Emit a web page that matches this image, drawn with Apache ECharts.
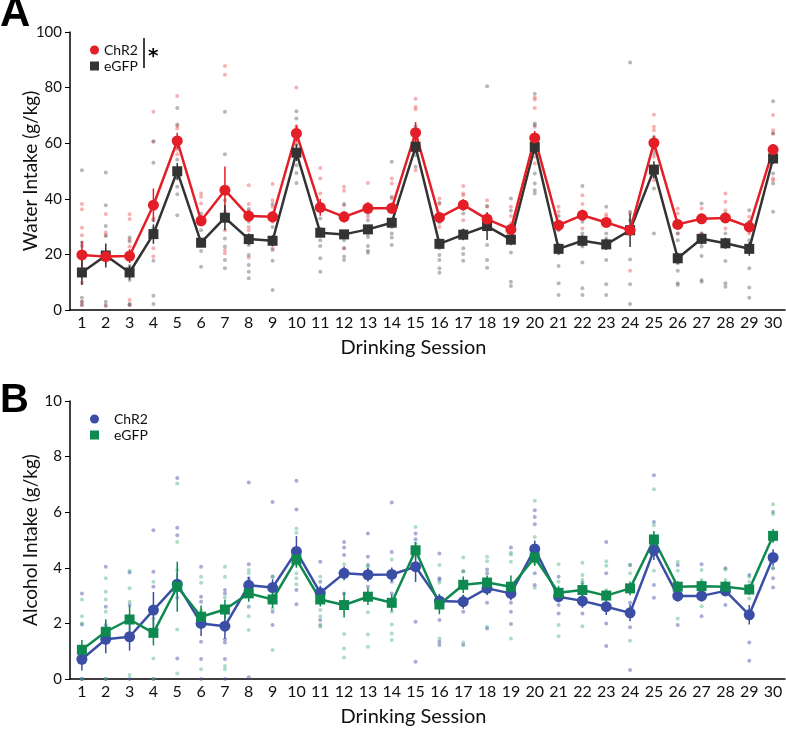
<!DOCTYPE html>
<html>
<head>
<meta charset="utf-8">
<script src="https://cdn.jsdelivr.net/npm/echarts@6/dist/echarts.min.js"></script>
<style>html,body{margin:0;padding:0;background:#fff}#c{width:786px;height:730px}</style>
</head>
<body>
<div id="c"></div>
<script>
const sessions = ['1','2','3','4','5','6','7','8','9','10','11','12','13','14','15','16','17','18','19','20','21','22','23','24','25','26','27','28','29','30'];
const waterTicks = [0, 20, 40, 60, 80, 100];
const alcoholTicks = [0, 2, 4, 6, 8, 10];

const waterChR2Mean = [19.8,19.2,19.4,37.7,60.8,32.1,43.1,33.8,33.5,63.5,36.9,33.5,36.6,36.6,63.8,33.3,37.8,32.7,29.0,61.9,30.5,34.1,31.5,28.7,60.1,30.8,32.8,33.1,29.9,57.7];
const waterChR2Err  = [5,2.5,2.5,6,3,2,8.5,2,2,3,3,2,2,2,3.8,2,2,2,2,2.5,2,2,1.5,1.5,2.5,1.5,1.5,1.5,2,2];
const waterEgfpMean = [13.5,19.6,13.5,27.3,49.9,24.2,33.2,25.5,24.9,56.6,27.8,27.2,29.0,31.4,58.7,23.8,27.1,30.2,25.3,58.7,22.0,24.9,23.6,28.7,50.5,18.6,25.6,24.0,22.0,54.5];
const waterEgfpErr  = [4.5,4.3,2.5,3.5,3,1.5,4.5,2,2,3,1.5,1.5,1.5,1.5,2,1.5,2,5,2,2.5,2,2,2,6,3,2,2,2,2.5,2];

const alcoholChR2Mean = [0.71,1.43,1.52,2.48,3.41,2.0,1.9,3.37,3.29,4.59,3.1,3.8,3.75,3.76,4.04,2.81,2.78,3.26,3.08,4.68,2.96,2.81,2.6,2.38,4.63,2.99,2.99,3.17,2.31,4.37];
const alcoholChR2Err  = [0.4,0.5,0.5,0.65,0.4,0.45,0.45,0.3,0.3,0.55,0.25,0.25,0.25,0.25,0.55,0.25,0.25,0.25,0.25,0.3,0.2,0.25,0.3,0.3,0.35,0.2,0.2,0.2,0.35,0.3];
const alcoholEgfpMean = [1.05,1.7,2.14,1.66,3.32,2.24,2.5,3.08,2.86,4.3,2.86,2.66,2.96,2.74,4.63,2.68,3.39,3.47,3.32,4.37,3.1,3.2,3.0,3.26,5.02,3.32,3.34,3.32,3.22,5.15];
const alcoholEgfpErr  = [0.35,0.45,0.5,0.45,0.9,0.4,0.35,0.3,0.3,0.3,0.25,0.45,0.3,0.3,0.3,0.35,0.3,0.25,0.4,0.3,0.25,0.25,0.2,0.25,0.3,0.2,0.2,0.2,0.2,0.25];

const waterChR2Dots = [
[38.1,36.2,29.6,26.9,9.8,3,1.8],[34.5,27.9,26.9,20.4,18.6,1.8],[32.7,34.4,25.4,22.8,3.6,1.8],[71.3,60.5,32.9,27.5,22.2,19.2],
[77,66.2,65.3,57.7,56,49.1],[41.9,40.7,38.3,32.3,30.9,24],[87.8,84.6,35.3,28.7,21.6,20.4],[44.9,38.1,35.7,33.3,29.9,28.7,18.9],
[45.3,39.5,37.1,31.7,22.2],[80,66.1,65.3,64.1,59.9,57.5],[51.1,47.3,41.9,37.1,29.3],[44.3,42.9,37.7,32.3,22.2],
[45.7,38.3,36.5,33.5,27.3],[47.3,45.5,40.1,37.1,32.3],[76,73,72.2,63.5,61.1,56.9,50.3],[40.1,38.1,33.5,29.9],
[44.6,41.9,41.3,37.7,32.3],[39.5,37.1,33.5,31.7],[37.1,33.8,31.1,27.5],[76.4,75.7,72.7,65.9,62.3,55.1,52.7],
[37.1,35.3,30.5,21.3],[41.3,38.1,34.7,29.3],[34.4,33.5,30.9],[34.7,14.1],[70.2,65.9,64.7,57.5,55.1,46.7],
[36.5,34.7,29.9,27.5],[36.5,34.1,31.7,27.5],[41.9,38.9,35.9,32.3,29.3],[33.5,31.7,27.5],[70.1,64.7,63.5,55.1,47.3,46.7]
];
const waterEgfpDots = [
[50.3,24.3,23,4.4,3,1.8],[49.5,37.7,30.2,26.6,3,1.4],[26.1,24.6,15.8,10.8,2.2,1.8],[60.7,53,32.3,29.3,17.7,5.1,2.2],
[72.7,66.7,54.1,47.3,44.3,41.6,34.1],[34.7,28.7,23.7,21.2,15.6],[71.3,56,39.5,25.7,22.8,18,15],[36.3,31.7,23.4,19.8,16.2,13.8,11.4],
[38.1,33.8,29.9,24,21.6,17.7,7.2],[71.5,68.9,59.3,55.1,52.1,49.3,45.7],[32.9,27.5,25.1,23,18.6,13.8],[38.1,34.7,27.5,25.1,22.2,19.2,18],
[34.7,32.3,28.1,26.3,23,21.3,20.6],[53.3,40.7,29.9,27.5,26.1,23.4],[66.1,62.3,58.9,55.7,51.5],[38.6,31.4,22.2,19.8,18,15,13.4],
[34.7,28.7,26.1,22.2,20.1,17.7],[80.5,37.4,29.9,23.4,18,15.2],[40.1,35.7,25.7,20.7,10.2,8.6],[77.8,67.1,66.5,49.1,45.5,43.1,41.9],
[33.8,28.7,20.4,15.8,9.6,5.4],[44.6,31.7,27.5,22.8,17.1,7.8,5.4],[37.1,27.5,25.7,18,9.3,5.4],[89,35.3,32.3,27.5,18.2,9.3,2.2],
[62.3,58.7,56.3,47.9,43.7,27.5],[27.5,25.1,16.8,14.1,9.6,9],[38.3,31.7,27.5,22.8,19.4,10.8,10.2],[34.7,27.5,25.1,17.6,9.6,8.4],
[35.9,31.7,25.1,15,8.1,4.4],[75.1,63.5,58.7,49.1,45.5,35.3]
];
const alcoholChR2Dots = [
[3.08,1.96,0,0],[4.04,2.6,1.94,0],[3.83,2.66,2.26,0],[5.35,3.86,3.32,0],[7.23,5.44,5.17,2.92,0.74],[4.04,2.96,2.78,1.34,0.72,0],
[3.2,3.08,1.43,1.31,0.72,0],[7.07,4.13,3.62,2.6,0.06],[6.37,3.68,2.42,1.94],[7.13,6.1,4.24,3.2,2.69],[4.22,3.5,2.12,1.94],
[4.93,4.73,4.46,3.08,2.74],[5.23,4.4,4.1,3.68,3.32],[6.35,4.57,3.5,3.08,2.74],[5.23,5.03,2.06,0.62],[4.51,3.62,3.56,2.12,1.34,1.22],
[3.88,2.42,1.22],[3.94,3.8,2.74,1.82],[4.73,2.74,2.42,1.98],[6.07,5.83,5.57,3.8,3.38],[3.68,2.66,2.36],[3.46,2.66,2.36],
[4.93,3.8,2.0,1.19],[4.1,2.74,1.86,0.32],[7.33,5.65,3.38,2.92],[4.1,3.2,1.94],[4.13,3.2,2.26],[3.98,2.66],[3.74,1.31,0.66],[6.01,3.98,3.62,3.29]
];
const alcoholEgfpDots = [
[2.86,2.26,2.0,1.16,0],[3.62,3.14,2.86,2.42,0],[3.89,3.26,2.78,0.14],[3.5,2.18,0.74,0],[7.03,4.93,3.92,1.78,0.2],[3.68,3.46,2.48,0.35],
[4.04,3.68,2.93,0.47,0.35],[3.92,3.8,2.26,1.76],[3.7,2.84,2.54,1.04],[5.41,5.26,3.8,3.62,3.41],[3.68,2.48,2.26,1.88],
[4.13,2.72,1.62,1.1,0.77],[4.04,3.8,2.4,1.6,1.16],[4.3,2.42,1.96,1.64,1.4],[5.47,4.87,4.69],[4.1,3.46,1.46],[4.37,3.88,2.96,1.31],
[4.4,4.24,3.56,1.88],[4.54,4.48,4.22,1.46],[6.41,5.11,4.16,3.28],[4.13,3.5,1.94,1.54],[4.18,3.74,3.56,1.9],[4.24,4.07,3.2],
[4.1,3.8,1.38],[6.83,5.53,3.89],[4.22,3.89,2.18],[3.92,3.56,2.62],[3.94,3.56,3.08],[3.68,3.5,2.9],[6.29,5.93,4.99,3.98]
];

const FONT = 'Lato';
const RED = '#e31e26', BLACK = '#333333', BLUE = '#3a4ea6', GREEN = '#0e8a50';

function dots(arr) { const out = []; arr.forEach((vals, i) => vals.forEach(v => out.push([i, v]))); return out; }
function errs(mean, err) { return mean.map((m, i) => [i, m - err[i], m + err[i]]); }

function dotSeries(name, arr, color, gi) {
  return { type: 'scatter', name: name + ' dots', xAxisIndex: gi, yAxisIndex: gi, data: dots(arr), symbolSize: 4,
    itemStyle: { color: color }, z: 1, silent: true };
}
function errSeries(name, mean, err, color, gi) {
  return { type: 'custom', name: name + ' sem', xAxisIndex: gi, yAxisIndex: gi, data: errs(mean, err), z: 3, silent: true,
    encode: { x: 0, y: [1, 2] },
    renderItem: function (params, api) {
      const a = api.coord([api.value(0), api.value(1)]);
      const b = api.coord([api.value(0), api.value(2)]);
      return { type: 'line', shape: { x1: a[0], y1: a[1], x2: b[0], y2: b[1] }, style: { stroke: color, lineWidth: 1.5 } };
    } };
}
function lineSeries(name, mean, color, symbol, size, gi) {
  return { type: 'line', name: name, xAxisIndex: gi, yAxisIndex: gi, data: mean, symbol: symbol, symbolSize: size,
    showSymbol: true, lineStyle: { color: color, width: 2.5 }, itemStyle: { color: color }, z: 5, animation: false };
}

function xAxis(gi) {
  return { type: 'category', gridIndex: gi, data: sessions, boundaryGap: true,
    name: 'Drinking Session', nameLocation: 'middle', nameGap: 28, nameMoveOverlap: false,
    nameTextStyle: { fontFamily: FONT, fontSize: 20, color: '#111', padding: [0, 28, 0, 0] },
    axisLine: { lineStyle: { color: '#000', width: 1.5 } },
    axisTick: { alignWithLabel: true, length: 5, lineStyle: { color: '#000' } },
    axisLabel: { fontFamily: FONT, fontSize: 16, color: '#111', margin: 5, interval: 0 },
    splitLine: { show: false } };
}
function yAxis(gi, name, ticks) {
  return { type: 'value', gridIndex: gi, min: ticks[0], max: ticks[ticks.length - 1], interval: ticks[1] - ticks[0],
    name: name, nameLocation: 'middle', nameGap: 30, nameMoveOverlap: false,
    nameTextStyle: { fontFamily: FONT, fontSize: 19, color: '#111' },
    axisLine: { show: true, lineStyle: { color: '#000', width: 1.5 } },
    axisTick: { show: true, length: 5, lineStyle: { color: '#000' } },
    axisLabel: { fontFamily: FONT, fontSize: 15, color: '#111', margin: 8 },
    splitLine: { show: false } };
}

const chart = echarts.init(document.getElementById('c'));
chart.setOption({
  animation: false,
  backgroundColor: '#fff',
  grid: [
    { left: 70, right: 1, top: 32, height: 278 },
    { left: 70, right: 1, top: 401, height: 278 }
  ],
  xAxis: [xAxis(0), xAxis(1)],
  yAxis: [yAxis(0, 'Water Intake (g/kg)', waterTicks), yAxis(1, 'Alcohol Intake (g/kg)', alcoholTicks)],
  legend: [
    { left: 85, top: 38, orient: 'vertical', itemWidth: 9, itemHeight: 9, itemGap: 2,
      textStyle: { fontFamily: FONT, fontSize: 14, color: '#111', padding: [0, 0, 0, 0] },
      formatter: n => n.split('|')[0],
      data: [{ name: 'ChR2|w', icon: 'circle' }, { name: 'eGFP|w', icon: 'rect' }] },
    { left: 85, top: 407, orient: 'vertical', itemWidth: 9, itemHeight: 9, itemGap: 2,
      textStyle: { fontFamily: FONT, fontSize: 14, color: '#111', padding: [0, 0, 0, 10] },
      formatter: n => n.split('|')[0],
      data: [{ name: 'ChR2|a', icon: 'circle' }, { name: 'eGFP|a', icon: 'rect' }] }
  ],
  graphic: [
    { type: 'text', left: 0, top: -7, style: { text: 'A', fontFamily: 'Liberation Sans', fontWeight: 'bold', fontSize: 42, fill: '#000' } },
    { type: 'text', left: 0, top: 381, style: { text: 'B', fontFamily: 'Liberation Sans', fontWeight: 'bold', fontSize: 40, fill: '#000' } },
    { type: 'line', shape: { x1: 144, y1: 38, x2: 144, y2: 68 }, style: { stroke: '#000', lineWidth: 1.5 } },
    { type: 'text', left: 148, top: 47, style: { text: '*', fontFamily: 'DejaVu Sans', fontWeight: 'bold', fontSize: 20, fill: '#000' } }
  ],
  series: [
    dotSeries('ChR2|w', waterChR2Dots, 'rgba(235,80,80,0.55)', 0),
    dotSeries('eGFP|w', waterEgfpDots, 'rgba(90,90,90,0.55)', 0),
    errSeries('ChR2|w', waterChR2Mean, waterChR2Err, RED, 0),
    errSeries('eGFP|w', waterEgfpMean, waterEgfpErr, BLACK, 0),
    lineSeries('eGFP|w', waterEgfpMean, BLACK, 'rect', 10, 0),
    lineSeries('ChR2|w', waterChR2Mean, RED, 'circle', 11, 0),
    dotSeries('ChR2|a', alcoholChR2Dots, 'rgba(70,85,170,0.6)', 1),
    dotSeries('eGFP|a', alcoholEgfpDots, 'rgba(70,175,125,0.55)', 1),
    errSeries('ChR2|a', alcoholChR2Mean, alcoholChR2Err, BLUE, 1),
    errSeries('eGFP|a', alcoholEgfpMean, alcoholEgfpErr, GREEN, 1),
    lineSeries('ChR2|a', alcoholChR2Mean, BLUE, 'circle', 11, 1),
    lineSeries('eGFP|a', alcoholEgfpMean, GREEN, 'rect', 10, 1)
  ]
});
</script>
</body>
</html>
